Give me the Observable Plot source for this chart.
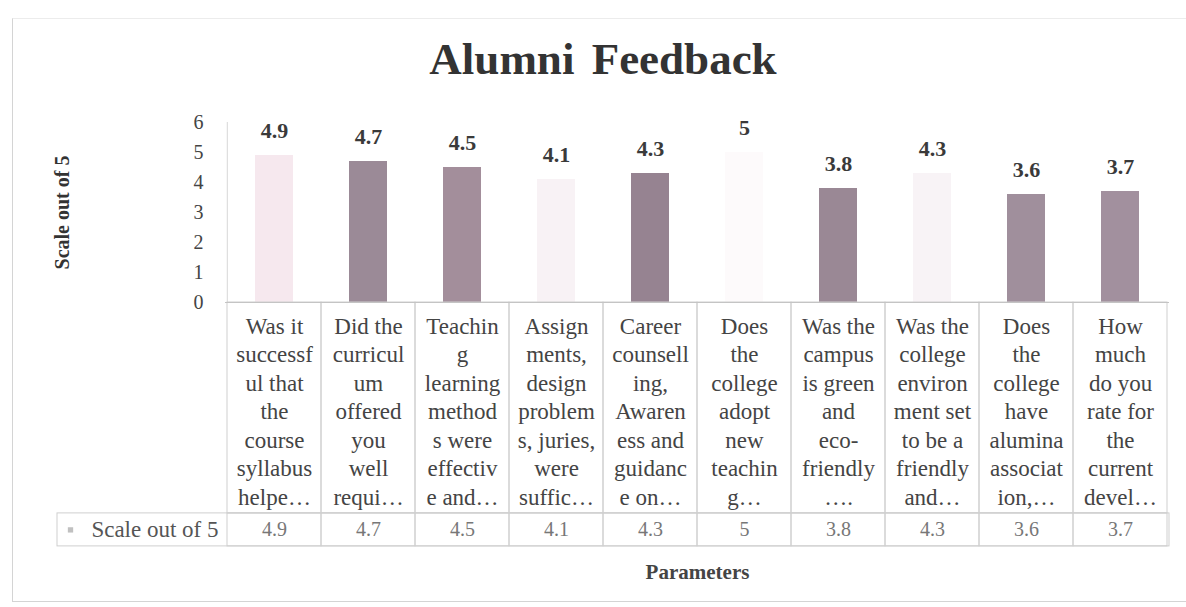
<!DOCTYPE html>
<html>
<head>
<meta charset="utf-8">
<script src="https://cdn.jsdelivr.net/npm/d3@7"></script>
<script src="https://cdn.jsdelivr.net/npm/@observablehq/plot@0.6"></script>
<style>
  html, body { margin: 0; padding: 0; background: #fff; }
  body { width: 1186px; height: 607px; overflow: hidden; position: relative;
         font-family: "Liberation Serif", "Times New Roman", serif; }
  #frame { position: absolute; left: 12px; top: 18px; width: 1200px; height: 582px;
           border: 1px solid #d4d4d4; border-top-color: #ececec; }
  #title { position: absolute; left: 10px; top: 34px; width: 1186px; text-align: center;
           font-size: 45px; font-weight: bold; color: #333; line-height: 1.15; word-spacing: 6px; }
  #chart { position: absolute; left: 0; top: 100px; }
  #chart svg, #chart svg text { font-family: "Liberation Serif", "Times New Roman", serif !important; }
</style>
</head>
<body>
<div id="frame"></div>
<div id="title"></div>
<div id="chart"></div>
<script>
// ---- data ----
const chartTitle = "Alumni Feedback";
const yTitle = "Scale out of 5";
const xTitle = "Parameters";
const seriesName = "Scale out of 5";
const categories = [
  "Was it\nsuccessf\nul that\nthe\ncourse\nsyllabus\nhelpe\u2026",
  "Did the\ncurricul\num\noffered\nyou\nwell\nrequi\u2026",
  "Teachin\ng\nlearning\nmethod\ns were\neffectiv\ne and\u2026",
  "Assign\nments,\ndesign\nproblem\ns, juries,\nwere\nsuffic\u2026",
  "Career\ncounsell\ning,\nAwaren\ness and\nguidanc\ne on\u2026",
  "Does\nthe\ncollege\nadopt\nnew\nteachin\ng\u2026",
  "Was the\ncampus\nis green\nand\neco-\nfriendly\n\u2026.",
  "Was the\ncollege\nenviron\nment set\nto be a\nfriendly\nand\u2026",
  "Does\nthe\ncollege\nhave\nalumina\nassociat\nion,\u2026",
  "How\nmuch\ndo you\nrate for\nthe\ncurrent\ndevel\u2026"
];
const values = [4.9, 4.7, 4.5, 4.1, 4.3, 5, 3.8, 4.3, 3.6, 3.7];
const yTicks = [0, 1, 2, 3, 4, 5, 6];

// ---- styles (scanned bar tones) ----
const barColors = ["#f6e8ee", "#9b8a97", "#a38e9b", "#f8f2f5", "#968391",
                   "#fdfafb", "#9a8895", "#f8f3f6", "#a08f9c", "#a2909e"];

document.getElementById("title").textContent = chartTitle;

const rows = categories.map((c, i) => ({category: c, value: values[i], color: barColors[i]}));

// layout
const W = 1186, mL = 225, mR = 17, mT = 22, mB = 300, H = mT + 180 + mB;
const step = (W - mL - mR) / categories.length;
const headBottom = -7.03;   // table header row bottom (in y units below 0)
const valueBottom = -8.13;  // value row bottom
const valueMid = (headBottom + valueBottom) / 2;
const gridColor = "#cfcfcf";
const serif = "Liberation Serif";

const chart = Plot.plot({
  width: W,
  height: H,
  marginLeft: mL,
  marginRight: mR,
  marginTop: mT,
  marginBottom: mB,
  style: {fontFamily: serif, color: "#444", background: "transparent"},
  x: {type: "band", domain: categories, padding: 0, axis: null},
  y: {domain: [0, 6], axis: null},
  color: {type: "identity"},
  marks: [
    // vertical axis line
    Plot.ruleX([categories[0]], {y1: 0, y2: 6, dx: -step / 2, stroke: "#d8d8d8"}),
    // bars
    Plot.barY(rows, {x: "category", y: "value", fill: "color", insetLeft: 28, insetRight: 28}),
    // data labels
    Plot.text(rows, {x: "category", y: "value", text: d => String(d.value), dy: -25,
                     fontSize: 22, fontWeight: "bold", fill: "#3a3a3a", fontFamily: serif}),
    // y tick labels
    Plot.axisY({ticks: yTicks, tickSize: 0, tickPadding: 22, fontSize: 20, label: null,
                tickFormat: d => String(d), fontFamily: serif}),
    // y title
    Plot.text([yTitle], {y: 3, frameAnchor: "left", textAnchor: "middle", dx: -163, rotate: -90,
                         fontSize: 20, fontWeight: "bold", fill: "#333", fontFamily: serif}),
    // data table: header cells
    Plot.barY(rows, {x: "category", y1: 0, y2: headBottom, fill: "none", stroke: gridColor}),
    // data table: value row (incl. row header cell)
    Plot.rect([0], {y1: headBottom, y2: valueBottom, insetLeft: -168, fill: "none", stroke: gridColor}),
    Plot.barY(rows, {x: "category", y1: headBottom, y2: valueBottom, fill: "none", stroke: gridColor}),
    // baseline
    Plot.ruleY([0], {stroke: "#c4c4c4"}),
    // category labels
    Plot.text(rows, {x: "category", y: 0, text: "category", lineAnchor: "top", dy: 11,
                     lineHeight: 1.24, fontSize: 23, fill: "#444", fontFamily: serif}),
    // values row
    Plot.text(rows, {x: "category", y: valueMid, text: d => String(d.value), fontSize: 20,
                     fill: "#777", fontFamily: serif}),
    // row header
    Plot.dot([0], {y: valueMid, frameAnchor: "left", dx: -155, symbol: "square", r: 3, fill: "#c0c0c0"}),
    Plot.text([seriesName], {y: valueMid, frameAnchor: "left", dx: -7, textAnchor: "end",
                             fontSize: 23, fill: "#555", fontFamily: serif}),
    // x title
    Plot.text([xTitle], {frameAnchor: "bottom", dy: 276, fontSize: 21, fontWeight: "bold",
                         fill: "#444", fontFamily: serif})
  ]
});
document.getElementById("chart").appendChild(chart);
</script>
</body>
</html>
